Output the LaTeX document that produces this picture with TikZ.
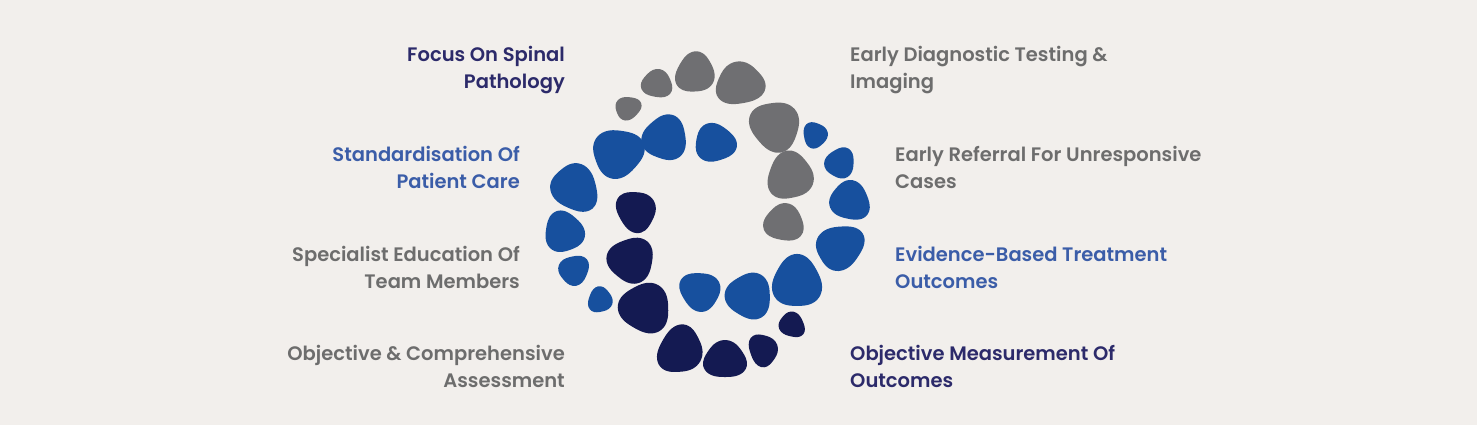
\documentclass[tikz,border=0pt]{standalone}
\usepackage{fontspec}
\setmainfont{Poppins}[UprightFont=* SemiBold]
\definecolor{bg}{HTML}{F2EFEC}
\definecolor{pgray}{HTML}{6F6F72}
\definecolor{pblue}{HTML}{17509E}
\definecolor{pnavy}{HTML}{141A52}
\definecolor{tnavy}{HTML}{2C2A6A}
\definecolor{tblue}{HTML}{3B5DA8}
\definecolor{tgray}{HTML}{6D6D6D}
\newcommand\pebble[6]{%
  \begin{scope}[shift={(#1,#2)},rotate=#5]
    \fill[#6] plot[smooth cycle,samples=30,domain=0:348]
      ({#3*(1+0.08*cos(3*\x))*cos(\x)},{#4*(1+0.08*cos(3*\x))*sin(\x)});
  \end{scope}}
\begin{document}
\begin{tikzpicture}[x=1pt,y=-1pt,
  lbl/.style={inner sep=0pt,font=\fontsize{19.5}{27}\selectfont},
  lft/.style={lbl,align=right,anchor=base east},
  rgt/.style={lbl,align=left,anchor=base west}]
\fill[bg] (0,0) rectangle (1477,425);
\useasboundingbox (0,0) rectangle (1477,425);
% gray
\pebble{628}{108}{13}{11.5}{20}{pgray}
\pebble{657}{84}{14}{15.5}{80}{pgray}
\pebble{695}{73}{19}{20.5}{-30}{pgray}
\pebble{740}{84}{21}{24.5}{100}{pgray}
\pebble{775}{126}{24}{25.5}{40}{pgray}
\pebble{790}{176}{22.5}{24}{-20}{pgray}
\pebble{784}{223}{18.5}{20}{80}{pgray}
% blue
\pebble{815}{135}{12}{13}{10}{pblue}
\pebble{840}{163}{15.5}{14.5}{60}{pblue}
\pebble{850}{201}{20.5}{19}{-40}{pblue}
\pebble{840}{247}{24.5}{21.5}{30}{pblue}
\pebble{797}{282}{26}{24.5}{90}{pblue}
\pebble{749}{296}{23}{22.5}{-60}{pblue}
\pebble{700}{291}{20.5}{19}{150}{pblue}
\pebble{715}{143}{20.5}{19}{-10}{pblue}
\pebble{665}{138}{22.5}{22}{70}{pblue}
\pebble{618}{153}{25.5}{24}{20}{pblue}
\pebble{575}{188}{25}{22}{-50}{pblue}
\pebble{564}{232}{20.5}{19.5}{110}{pblue}
\pebble{574}{270}{15.5}{14.5}{40}{pblue}
\pebble{600}{300}{12}{13}{-20}{pblue}
% navy
\pebble{636}{211}{19}{21}{30}{pnavy}
\pebble{631}{260}{22.5}{23}{-70}{pnavy}
\pebble{645}{308}{24.5}{25.5}{60}{pnavy}
\pebble{680}{350}{21.5}{24.5}{-30}{pnavy}
\pebble{725}{360}{18.5}{21.5}{90}{pnavy}
\pebble{763}{350}{14}{16.5}{20}{pnavy}
\pebble{792}{325}{13.5}{12}{-40}{pnavy}
% labels (anchor = baseline of second line)
\node[lft,text=tnavy] (spinal) at (565,88.5) {Focus On Spinal\\Pathology};
\node[lft,text=tblue] (standard) at (520,188) {Standardisation Of\\Patient Care};
\node[lft,text=tgray] (educ) at (520,288.5) {Specialist Education Of\\Team Members};
\node[lft,text=tgray] (assess) at (565,387) {Objective \& Comprehensive\\Assessment};
\node[rgt,text=tgray] (diag) at (850,88.5) {Early Diagnostic Testing \&\\Imaging};
\node[rgt,text=tgray] (refer) at (895,188) {Early Referral For Unresponsive\\Cases};
\node[rgt,text=tblue] (evid) at (895,288.5) {Evidence-Based Treatment\\Outcomes};
\node[rgt,text=tnavy] (measure) at (850,387) {Objective Measurement Of\\Outcomes};
\end{tikzpicture}
\end{document}
